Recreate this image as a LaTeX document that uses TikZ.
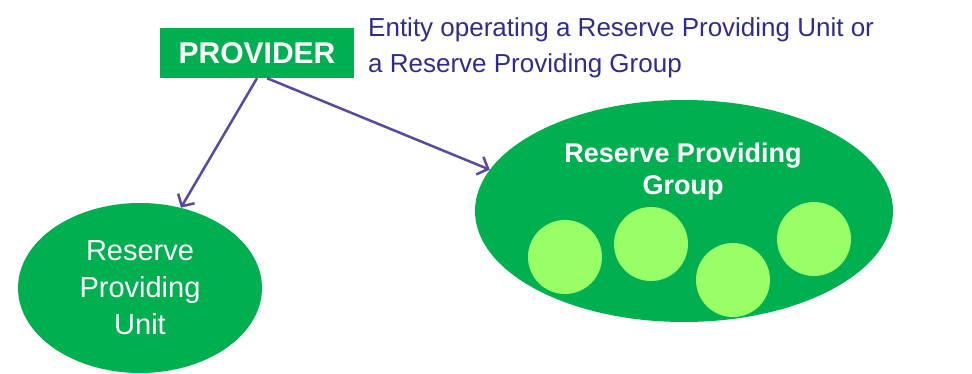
\documentclass[tikz,border=0pt]{standalone}
\usepackage{fontspec}
\setmainfont{Liberation Sans}
\usetikzlibrary{shapes.geometric,arrows.meta}
\definecolor{dgreen}{RGB}{0,176,80}
\definecolor{lgreen}{RGB}{153,255,102}
\definecolor{navy}{RGB}{48,44,140}
\definecolor{arrowc}{RGB}{92,72,160}
\tikzset{
  greenellipse/.style={ellipse, fill=dgreen, draw=none, inner sep=0pt},
  unitcircle/.style={circle, fill=lgreen, draw=none, minimum size=74pt, inner sep=0pt},
  conn/.style={draw=arrowc, line width=2.5pt, -{Straight Barb[length=9pt,width=19pt,line width=2.5pt]}},
}
\begin{document}
\begin{tikzpicture}[x=1pt,y=-1pt]
\useasboundingbox (0,0) rectangle (972,374);
\node[fill=dgreen, minimum width=194pt, minimum height=50pt, inner sep=0pt,
      text=white, font=\fontsize{30}{34}\selectfont\bfseries] (provider) at (257,53) {PROVIDER};
\node[anchor=base west, align=left, inner sep=0pt, text=navy,
      font=\fontsize{26}{36}\selectfont] (desc) at (368,73)
      {Entity operating a Reserve Providing Unit or\\a Reserve Providing Group};
\node[greenellipse, minimum width=244pt, minimum height=170pt, align=center,
      text=white, font=\fontsize{29}{37}\selectfont] (rpu) at (140,288)
      {Reserve\\Providing\\Unit};
\node[greenellipse, minimum width=418pt, minimum height=222pt] (rpg) at (684,211) {};
\node[unitcircle] (c1) at (565,257) {};
\node[unitcircle] (c2) at (651,244) {};
\node[unitcircle] (c3) at (733,280) {};
\node[unitcircle] (c4) at (814,239) {};
\node[anchor=base, align=center, inner sep=0pt, text=white,
      font=\fontsize{27}{32}\selectfont\bfseries] (rpglabel) at (683,195)
      {Reserve Providing\\Group};
\draw[conn] (provider.south) -- (rpu.63);
\draw[conn] ([xshift=10pt]provider.south) -- (rpg.168);
\end{tikzpicture}
\end{document}
